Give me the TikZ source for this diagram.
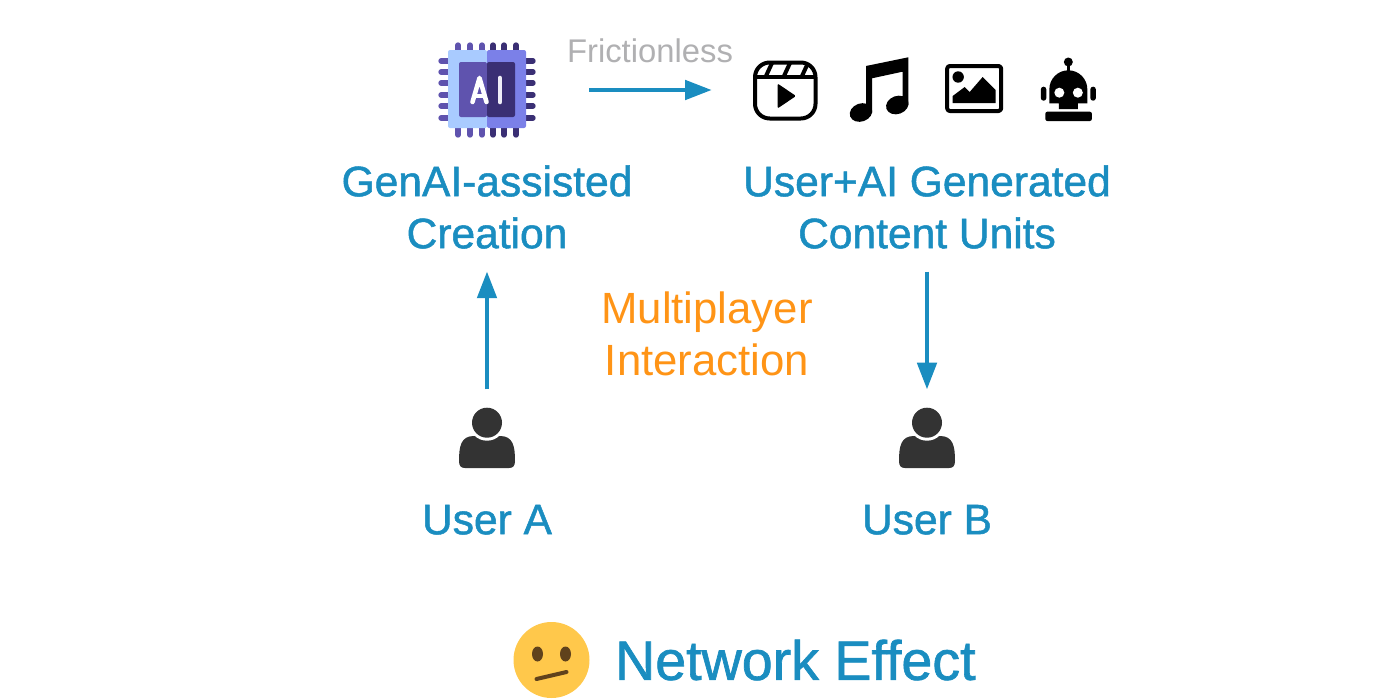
\documentclass[tikz,border=0pt]{standalone}
\usepackage{fontspec}
\usepackage{tikz}
\usetikzlibrary{positioning,arrows.meta}
\setmainfont{Liberation Sans}
\newfontfamily\medfont[FakeBold=1.2]{Liberation Sans}
\definecolor{nwblue}{HTML}{1A8DC0}
\definecolor{nworange}{HTML}{FF9416}
\definecolor{nwgray}{HTML}{B0B0B2}
\definecolor{nwdark}{HTML}{333333}
\definecolor{chiplight}{HTML}{A9CBFF}
\definecolor{chipmid}{HTML}{7B80E8}
\definecolor{chipcore}{HTML}{5F53AE}
\definecolor{chipdark}{HTML}{3A2F74}
\definecolor{faceyellow}{HTML}{FFC84B}
\definecolor{facebrown}{HTML}{60421C}

\begin{document}
\begin{tikzpicture}[
  x=0.75pt, y=-0.75pt,
  iconbox/.style={inner sep=0pt, outer sep=0pt, minimum width=#1, minimum height=45pt},
  bluelabel/.style={text=nwblue, align=center, inner sep=0pt, font=\medfont\fontsize{31.9}{39}\selectfont},
  orangelabel/.style={text=nworange, align=center, inner sep=0pt, font=\fontsize{32.8}{39}\selectfont},
  arr/.style={-{Triangle[length=20pt,width=14.5pt]}, draw=nwblue, line width=3pt},
  pinleft/.style={line width=4pt, line cap=round, draw=chipcore},
  pinright/.style={line width=4pt, line cap=round, draw=chipdark},
  iconline/.style={draw=black, line width=3pt, line join=round}
]
\useasboundingbox (0,0) rectangle (1400,700);

\node[iconbox=75pt] (chip) at (487,90) {};
\node[iconbox=48pt, right=162pt of chip] (clap) {};
\node[iconbox=44pt, right=24.5pt of clap] (note) {};
\node[iconbox=43pt, right=27.5pt of note] (photo) {};
\node[iconbox=42pt, right=28.5pt of photo] (robot) {};

\node[bluelabel] (genai) at (487,207) {GenAI-assisted\\Creation};
\node[bluelabel] (units) at (927,207) {User+AI Generated\\Content Units};
\node[orangelabel] (multi) at (707,334) {Multiplayer\\Interaction};
\node[text=nwgray, inner sep=0pt, font=\fontsize{24.6}{28}\selectfont] (frict) at (650,51) {Frictionless};

\node[iconbox=42pt] (usera) at (487,438) {};
\node[iconbox=42pt] (userb) at (927,438) {};
\node[bluelabel, below=27.5pt of usera] (labela) {User A};
\node[bluelabel, below=27.5pt of userb] (labelb) {User B};

\node[iconbox=57pt, minimum height=57pt] (face) at (551.5,660) {};
\node[text=nwblue, inner sep=0pt, font=\medfont\fontsize{41.7}{44}\selectfont, right=19pt of face] (neteff) {Network Effect};

\draw[arr, shorten <=39pt, shorten >=31pt] (chip) -- (clap);
\draw[arr, shorten <=14pt, shorten >=17pt] (usera.north) -- (genai.south);
\draw[arr, shorten <=17pt, shorten >=14pt] (units.south) -- (userb.north);

\begin{scope}[shift={(chip.center)}]
\foreach \p in {-29,-17,-5}{
  \draw[pinleft] (\p,-45) -- (\p,45);
}
\foreach \p in {6,17,29}{
  \draw[pinright] (\p,-45) -- (\p,45);
}
\foreach \p in {-29,-18,-7,5,16,28}{
  \draw[pinleft] (-46,\p) -- (0,\p);
  \draw[pinright] (0,\p) -- (46,\p);
}
\fill[chiplight, rounded corners=1.5pt] (-39,-40) rectangle (0,38);
\fill[chipmid, rounded corners=1.5pt] (0,-40) rectangle (39,38);
\fill[chipcore, rounded corners=1.5pt] (-28,-28) rectangle (0,27);
\fill[chipdark, rounded corners=1.5pt] (0,-28) rectangle (28,27);
\draw[white, line width=3.4pt, line cap=round, line join=round] (-14.5,12) -- (-7.5,-12) -- (-0.5,12);
\draw[white, line width=2.6pt] (-12,6) -- (-3,6);
\draw[white!90!chipcore, line width=3.4pt, line cap=round] (13,-12) -- (13,12);
\end{scope}

\begin{scope}[shift={(clap.center)}]
\draw[iconline, rounded corners=11pt] (-30,-27.5) rectangle (30.5,28.5);
\draw[iconline] (-30,-13) -- (30.5,-13);
\draw[iconline] (-13,-27) -- (-19,-14);
\draw[iconline] (5,-27) -- (-1,-14);
\draw[iconline] (23,-27) -- (17,-14);
\fill[black, rounded corners=1pt] (-7.5,-6.5) -- (11,6) -- (-7.5,18.5) -- cycle;
\end{scope}

\begin{scope}[shift={(note.center)}]
\fill[black] (-13,-24) -- (29.3,-32.7) -- (29.3,15) -- (23.5,15) -- (23.5,-18.3) -- (-7,-11.7) -- (-7,22.5) -- (-13,22.5) -- cycle;
\fill[black, rotate around={20:(-18,22.5)}] (-18,22.5) ellipse (11.5 and 9);
\fill[black, rotate around={20:(18.3,15)}] (18.3,15) ellipse (11.5 and 9);
\end{scope}

\begin{scope}[shift={(photo.center)}]
\draw[iconline, rounded corners=2pt] (-26.5,-24) rectangle (27.5,21);
\fill[black] (-15.5,-13) circle (5.7);
\fill[black] (-21,13) -- (-21,6) -- (-9,-3) -- (-4,2) -- (9,-13) -- (22,0) -- (22,13) -- cycle;
\end{scope}

\begin{scope}[shift={(robot.center)}]
\fill[black] (0,-28) circle (4.5);
\fill[black] (-1.5,-28) rectangle (1.5,-18);
\fill[black] (-19,-0.7) arc[start angle=180, end angle=360, radius=19] -- (19,13.3) -- (9.5,13.3) -- (9.5,19) -- (-9.5,19) -- (-9.5,13.3) -- (-19,13.3) -- cycle;
\fill[white] (-9,2.7) circle (5);
\fill[white] (9.5,2.7) circle (5);
\fill[black, rounded corners=2pt] (-27.5,-3.3) rectangle (-22,10.7);
\fill[black, rounded corners=2pt] (22,-3.3) rectangle (27.5,10.7);
\fill[black, rounded corners=1.5pt] (-23,21.7) rectangle (23.5,31);
\end{scope}

\foreach \u in {usera,userb}{
\begin{scope}[shift={(\u.center)}]
\fill[nwdark] (-28,23) .. controls (-28,8) and (-26,-2) .. (-13,-2) -- (13,-2) .. controls (26,-2) and (28,8) .. (28,23) .. controls (28,28) and (26,30) .. (22,30) -- (-22,30) .. controls (-26,30) and (-28,28) .. (-28,23) -- cycle;
\fill[white] (0,-15.3) circle (18);
\fill[nwdark] (0,-15.3) circle (15);
\end{scope}
}

\begin{scope}[shift={(face.center)}]
\fill[faceyellow] (0,0) circle (38);
\fill[facebrown] (-14,-6) ellipse (5.5 and 7.5);
\fill[facebrown] (14,-6) ellipse (5.5 and 7.5);
\draw[facebrown, line width=3pt, line cap=round] (-15,19) -- (15,12);
\end{scope}
\end{tikzpicture}
\end{document}
